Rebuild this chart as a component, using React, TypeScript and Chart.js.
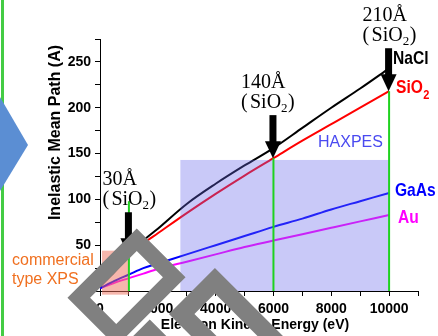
import React, { useEffect, useRef } from 'react';
import { Chart, registerables } from 'chart.js';

Chart.register(...registerables);

// ---- data ----
const energies = [0, 500, 1000, 1500, 2000, 3000, 4000, 5000, 6000, 7000, 8000, 9000, 10000];
const naclIMFP = [5, 21, 38, 55, 68, 95, 117, 137, 156, 178, 200, 221, 243];
const sio2IMFP = [5, 23, 39, 52, 63, 85, 106, 126, 145, 164, 182, 200, 218];
const gaasIMFP = [3, 11, 18, 25, 30, 40, 50, 60, 70, 79, 89, 98, 107];
const auIMFP = [3, 9, 14, 19, 24, 32, 40, 48, 55, 62, 69, 76, 83];

const xTickLabels = [0, 2000, 4000, 6000, 8000, 10000];
const yTickLabels = [0, 50, 100, 150, 200, 250];

const depthEnergies = [1000, 6000, 10000];
const depthLabels = ['30Å', '140Å', '210Å'];
const depthTips = [39, 145, 218];
const greenLineTops = [98, 145, 218];

const haxpesEnergy = [2780, 10000];
const haxpesTop = 143;
const xpsEnergy = [0, 1000];
const xpsTop = 44;

const SANS = '"Liberation Sans", Arial, sans-serif';
const SERIF = '"Liberation Serif", "Times New Roman", serif';

export default function App() {
  const ref = useRef<HTMLCanvasElement>(null);

  useEffect(() => {
    const canvas = ref.current as HTMLCanvasElement;
    const mk = (vals: number[], color: string) => ({
      data: energies.map((e, i) => ({ x: e, y: vals[i] })),
      borderColor: color,
      backgroundColor: color,
      borderWidth: 2,
      pointRadius: 0,
      showLine: true,
      fill: false,
      cubicInterpolationMode: 'monotone',
    });

    const scaledText = (ctx: CanvasRenderingContext2D, text: string, x: number, y: number, font: string, color: string, sx: number) => {
      ctx.save();
      ctx.font = font;
      ctx.fillStyle = color;
      ctx.textAlign = 'left';
      ctx.textBaseline = 'alphabetic';
      ctx.translate(x, y);
      ctx.scale(sx, 1);
      ctx.fillText(text, 0, 0);
      const w = ctx.measureText(text).width * sx;
      ctx.restore();
      return w;
    };

    const diamond = (ctx: CanvasRenderingContext2D, cx: number, cy: number, w: number, h: number, lw: number) => {
      ctx.save();
      ctx.translate(cx, cy);
      ctx.rotate(Math.PI / 4);
      ctx.strokeStyle = '#808080';
      ctx.lineWidth = lw;
      ctx.lineJoin = 'miter';
      ctx.strokeRect(-(w - lw) / 2, -(h - lw) / 2, w - lw, h - lw);
      ctx.restore();
    };

    const decor = {
      id: 'decor',
      beforeDraw(chart: any) {
        const ctx = chart.ctx;
        ctx.save();
        ctx.fillStyle = '#fff';
        ctx.fillRect(0, 0, chart.width, chart.height);
        ctx.restore();
      },
      afterDatasetsDraw(chart: any) {
        const ctx: CanvasRenderingContext2D = chart.ctx;
        const xs = chart.scales.x;
        const ys = chart.scales.y;
        const X = (v: number) => xs.getPixelForValue(v);
        const Y = (v: number) => ys.getPixelForValue(v);
        ctx.save();

        // commercial XPS region
        ctx.fillStyle = 'rgba(238,110,90,0.5)';
        ctx.fillRect(X(xpsEnergy[0]) + 2, Y(xpsTop), X(xpsEnergy[1]) - X(xpsEnergy[0]) - 2, Y(-4) - Y(xpsTop));

        // HAXPES region
        ctx.fillStyle = 'rgba(100,100,235,0.35)';
        ctx.fillRect(X(haxpesEnergy[0]), Y(haxpesTop), X(haxpesEnergy[1]) - X(haxpesEnergy[0]), Y(0) - Y(haxpesTop));

        // green vertical lines
        ctx.strokeStyle = '#1fd21f';
        ctx.lineWidth = 2;
        depthEnergies.forEach((e, i) => {
          ctx.beginPath();
          ctx.moveTo(X(e), Y(greenLineTops[i]));
          ctx.lineTo(X(e), Y(0));
          ctx.stroke();
        });

        // arrows + depth annotations
        const annOffsets = [-26, -32, -26];
        depthEnergies.forEach((e, i) => {
          const x = X(e) - 0.5;
          const tip = Y(depthTips[i]);
          ctx.fillStyle = '#000';
          ctx.fillRect(x - 3.5, tip - 43, 7, 27);
          ctx.beginPath();
          ctx.moveTo(x - 8, tip - 17);
          ctx.lineTo(x + 8, tip - 17);
          ctx.lineTo(x, tip);
          ctx.closePath();
          ctx.fill();

          const lx = x + annOffsets[i];
          ctx.font = `20px ${SERIF}`;
          ctx.textAlign = 'left';
          ctx.textBaseline = 'alphabetic';
          ctx.fillStyle = '#000';
          ctx.fillText(depthLabels[i], lx, tip - 70);
          const by = tip - 50;
          ctx.fillText('(', lx, by);
          ctx.fillText('SiO', lx + 9, by);
          const w = ctx.measureText('SiO').width;
          ctx.font = `13px ${SERIF}`;
          ctx.fillText('2', lx + 9 + w, by + 4);
          ctx.font = `20px ${SERIF}`;
          ctx.fillText(')', lx + 9 + w + 7, by);
        });

        // HAXPES label
        ctx.font = `16px ${SANS}`;
        ctx.fillStyle = '#4a4af0';
        ctx.textAlign = 'left';
        ctx.textBaseline = 'alphabetic';
        ctx.fillText('HAXPES', 318, 147);

        // commercial type XPS label
        ctx.fillStyle = '#f07020';
        ctx.fillText('commercial', 12, 264.5);
        ctx.fillText('type XPS', 12, 283.5);

        // series labels
        const bold = `bold 19px ${SANS}`;
        scaledText(ctx, 'NaCl', 393, 64, bold, '#000', 0.82);
        const w = scaledText(ctx, 'SiO', 396, 93, bold, '#ff0000', 0.82);
        scaledText(ctx, '2', 396 + w + 0.5, 99, `bold 13px ${SANS}`, '#ff0000', 0.85);
        scaledText(ctx, 'GaAs', 395, 196, bold, '#0000ff', 0.82);
        scaledText(ctx, 'Au', 398, 223, bold, '#ff00ff', 0.82);

        // axis titles
        ctx.fillStyle = '#000';
        ctx.font = `bold 14px ${SANS}`;
        ctx.textAlign = 'center';
        ctx.fillText('Electron Kinetic Energy (eV)', 255, 329);
        ctx.save();
        ctx.translate(60, 132.5);
        ctx.rotate(-Math.PI / 2);
        ctx.font = `bold 16px ${SANS}`;
        ctx.fillText('Inelastic Mean Path (A)', 0, 0);
        ctx.restore();

        // left slide decorations
        ctx.fillStyle = '#44cc44';
        ctx.fillRect(1, 0, 3, chart.height);
        ctx.fillStyle = '#5b8ed3';
        ctx.beginPath();
        ctx.moveTo(0, 97);
        ctx.lineTo(28, 145);
        ctx.lineTo(0, 191);
        ctx.closePath();
        ctx.fill();

        // watermark diamonds
        diamond(ctx, 126.5, 287.5, 69, 98, 16);
        diamond(ctx, 226.6, 325.6, 98, 65, 18);
        diamond(ctx, 139.5, 378.5, 69, 98, 16);

        ctx.restore();
      },
    };

    const tickFont = { family: SANS, size: 14, weight: 'bold' as const };

    const chart = new Chart(canvas, {
      type: 'scatter',
      data: {
        datasets: [
          mk(naclIMFP, '#000000'),
          mk(sio2IMFP, '#ff0000'),
          mk(gaasIMFP, '#0000ff'),
          mk(auIMFP, '#ff00ff'),
        ] as any,
      },
      options: {
        responsive: false,
        animation: false,
        devicePixelRatio: 1,
        layout: { padding: { left: 0, top: 39, right: 20, bottom: 0 } },
        plugins: { legend: { display: false }, tooltip: { enabled: false } },
        scales: {
          x: {
            type: 'linear',
            min: 0,
            max: 11000,
            afterFit: (s: any) => { s.height = 45; },
            ticks: {
              stepSize: 1000,
              autoSkip: false,
              maxRotation: 0,
              padding: 5,
              color: '#000',
              font: tickFont,
              callback: (v: any) => (xTickLabels.includes(Number(v)) ? String(v) : ''),
            },
            grid: { drawOnChartArea: false, drawTicks: true, tickLength: 5, color: '#000' },
            border: { display: true, color: '#000', width: 1 },
          },
          y: {
            type: 'linear',
            min: 0,
            max: 275,
            afterFit: (s: any) => { s.width = 100; },
            ticks: {
              stepSize: 25,
              autoSkip: false,
              padding: 4,
              color: '#000',
              font: tickFont,
              callback: (v: any) => (yTickLabels.includes(Number(v)) ? String(v) : ''),
            },
            grid: { drawOnChartArea: false, drawTicks: true, tickLength: 5, color: '#000' },
            border: { display: true, color: '#000', width: 1 },
          },
        },
      } as any,
      plugins: [decor],
    });
    return () => chart.destroy();
  }, []);

  return (
    <div style={{ position: 'fixed', left: 0, top: 0, width: 438, height: 336, background: '#fff' }}>
      <canvas ref={ref} width={438} height={336} style={{ display: 'block' }} />
    </div>
  );
}
